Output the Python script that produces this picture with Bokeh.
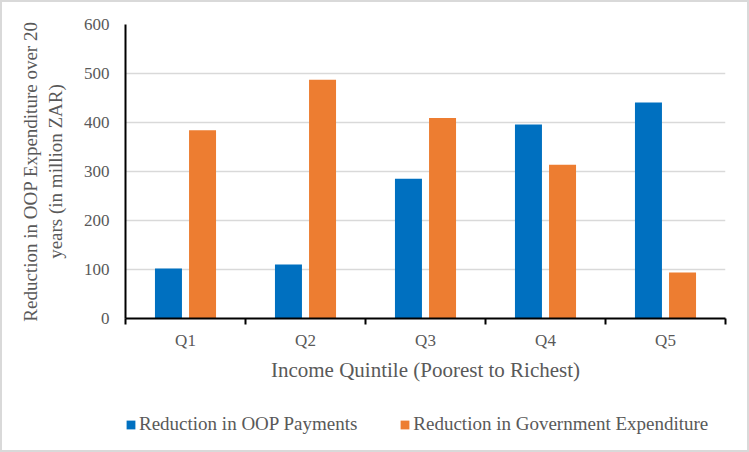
from bokeh.plotting import figure
from bokeh.layouts import column
from bokeh.models import (ColumnDataSource, Range1d, FixedTicker, Legend, LegendItem)
from bokeh.transform import dodge
from bokeh.embed import file_html
from bokeh.resources import INLINE
import numpy as np

# ---- data ----
quintiles = ["Q1", "Q2", "Q3", "Q4", "Q5"]
oop_payments = [102, 110, 285, 396, 441]
gov_expenditure = [384, 487, 409, 314, 94]
y_ticks = [0, 100, 200, 300, 400, 500, 600]

series_names = ["Reduction in OOP Payments", "Reduction in Government Expenditure"]
y_title = "Reduction in OOP Expenditure over 20\nyears (in million ZAR)"
x_title = "Income Quintile (Poorest to Richest)"
colors = ["#0070C0", "#ED7D31"]

FONT = "Liberation Serif"
TXT = "#595959"

pos = list(np.arange(len(quintiles)) + 0.5)
src = ColumnDataSource(dict(x=pos, q=quintiles, oop=oop_payments, gov=gov_expenditure))

p = figure(width=745, height=398, output_backend="svg", toolbar_location=None,
           x_range=Range1d(0, len(quintiles)), y_range=Range1d(0, 600),
           min_border_left=123, min_border_right=22, min_border_top=22,
           min_border_bottom=82)
p.outline_line_color = None
p.background_fill_color = "white"
p.border_fill_color = "white"

p.vbar(x=dodge("x", -0.142, range=p.x_range), top="oop", width=0.225, source=src,
       fill_color=colors[0], line_color=None)
p.vbar(x=dodge("x", 0.142, range=p.x_range), top="gov", width=0.225, source=src,
       fill_color=colors[1], line_color=None)

# x axis
xa = p.xaxis[0]
xa.ticker = FixedTicker(ticks=pos, minor_ticks=list(range(len(quintiles) + 1)))
xa.major_label_overrides = {float(v): q for v, q in zip(pos, quintiles)}
xa.major_tick_line_color = None
xa.major_tick_out = 0
xa.major_tick_in = 0
xa.minor_tick_line_color = "black"
xa.minor_tick_line_width = 2
xa.minor_tick_out = 6
xa.minor_tick_in = 0
xa.axis_line_color = "black"
xa.axis_line_width = 2
xa.major_label_text_font = FONT
xa.major_label_text_font_size = "17px"
xa.major_label_text_color = TXT
xa.major_label_standoff = 6
xa.axis_label = x_title
xa.axis_label_text_font = FONT
xa.axis_label_text_font_size = "21px"
xa.axis_label_text_font_style = "normal"
xa.axis_label_text_color = TXT
xa.axis_label_standoff = 5

# y axis
ya = p.yaxis[0]
ya.ticker = FixedTicker(ticks=y_ticks)
ya.major_tick_line_color = None
ya.minor_tick_line_color = None
ya.major_tick_out = 0
ya.major_tick_in = 0
ya.axis_line_color = "black"
ya.axis_line_width = 2
ya.major_label_text_font = FONT
ya.major_label_text_font_size = "17px"
ya.major_label_text_color = TXT
ya.major_label_standoff = 16
ya.axis_label = y_title
ya.axis_label_text_font = FONT
ya.axis_label_text_font_size = "19px"
ya.axis_label_text_font_style = "normal"
ya.axis_label_text_color = TXT
ya.axis_label_standoff = 15

p.xgrid.grid_line_color = None
p.ygrid.grid_line_color = "#d9d9d9"
p.ygrid.grid_line_width = 1.3

# legend strip underneath (its bars sit outside its own view; only the swatches show)
pl = figure(width=745, height=50, output_backend="svg", toolbar_location=None,
            x_range=Range1d(0, len(quintiles)), y_range=Range1d(1000, 1001),
            x_axis_location=None, y_axis_location=None, min_border=0,
            min_border_left=0, min_border_right=0, min_border_top=0, min_border_bottom=0)
pl.outline_line_color = None
pl.grid.grid_line_color = None
pl.border_fill_color = "white"
pl.background_fill_color = "white"
l1 = pl.vbar(x="x", top="oop", width=0.225, source=src, fill_color=colors[0], line_color=None)
l2 = pl.vbar(x="x", top="gov", width=0.225, source=src, fill_color=colors[1], line_color=None)

legend = Legend(items=[LegendItem(label=series_names[0], renderers=[l1]),
                       LegendItem(label=series_names[1], renderers=[l2])],
                location=(0, 15), orientation="horizontal",
                glyph_width=11, glyph_height=11, label_standoff=3, spacing=42,
                padding=0, margin=0, border_line_color=None,
                background_fill_alpha=0,
                label_text_font=FONT, label_text_font_size="19px",
                label_text_color=TXT)
pl.add_layout(legend, "center")

layout = column(p, pl, spacing=0, styles={"border": "2px solid #d9d9d9"})

open("out.html", "w").write(file_html(layout, INLINE))
